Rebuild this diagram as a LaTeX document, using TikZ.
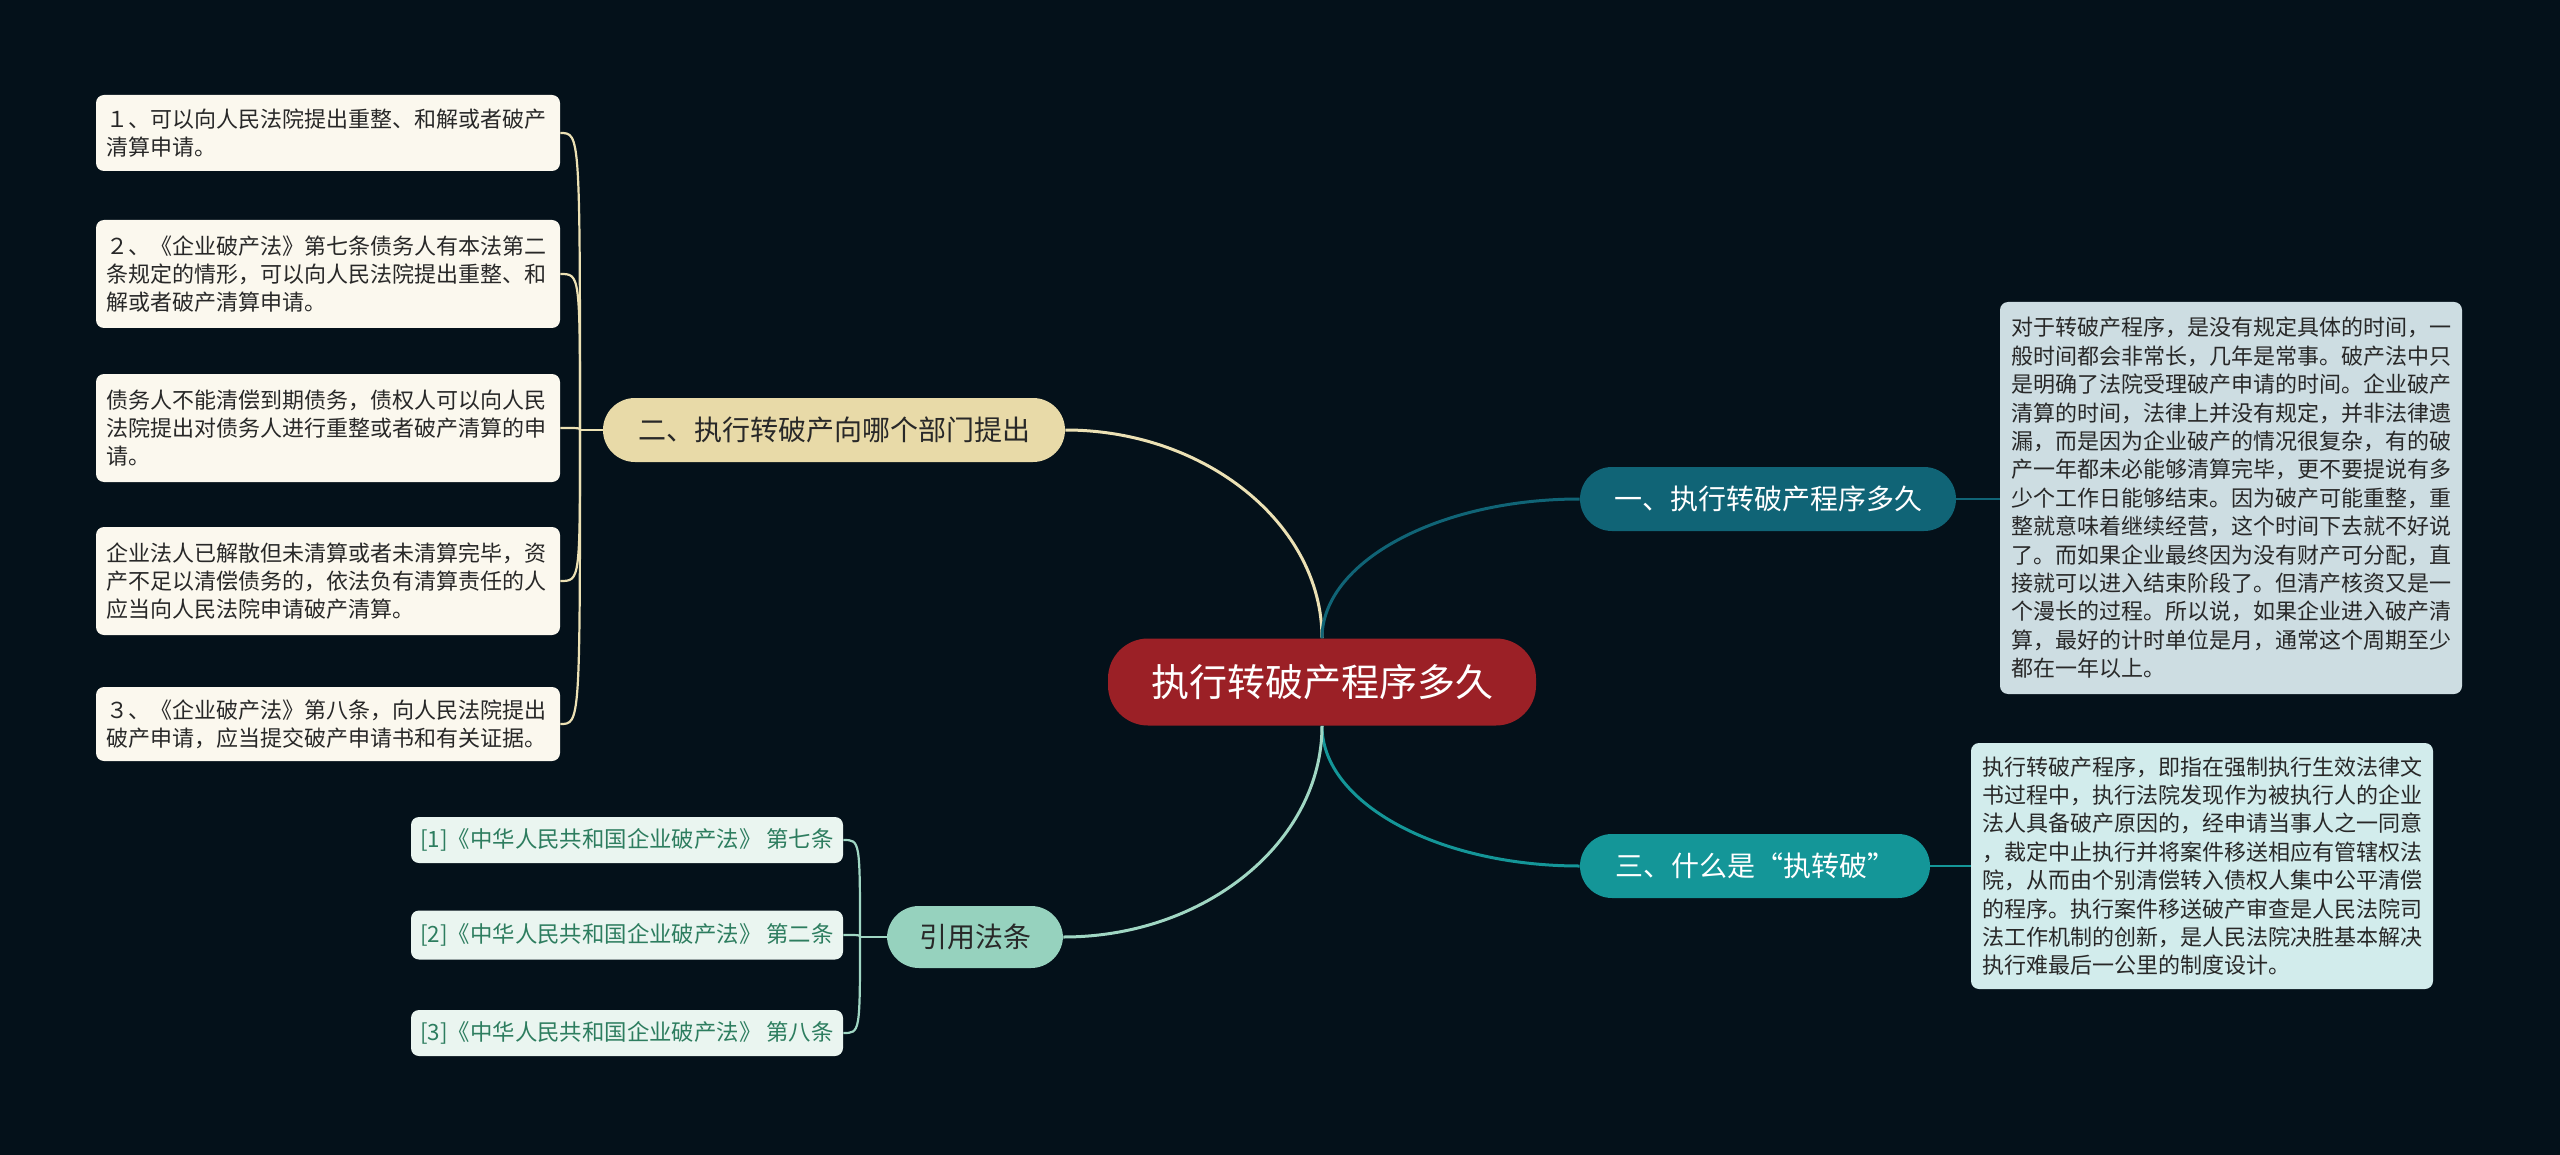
\documentclass[tikz,border=0pt]{standalone}
\usepackage{fontspec}
\setmainfont{Noto Sans CJK SC}
\usepackage{tikz}
\usetikzlibrary{positioning, calc}
\usepackage{xcolor}
\definecolor{bgdark}{RGB}{4,17,26}
\definecolor{rootred}{RGB}{155,32,38}
\definecolor{sand}{RGB}{232,218,168}
\definecolor{sandline}{RGB}{236,225,180}
\definecolor{leafcream}{RGB}{251,248,238}
\definecolor{tealdark}{RGB}{16,100,118}
\definecolor{teallight}{RGB}{20,150,152}
\definecolor{boxgrey}{RGB}{205,221,226}
\definecolor{boxcyan}{RGB}{210,236,236}
\definecolor{mint}{RGB}{150,210,190}
\definecolor{mintline}{RGB}{160,215,195}
\definecolor{citefill}{RGB}{234,245,240}
\definecolor{citetext}{RGB}{45,125,95}
\definecolor{inkdark}{RGB}{40,40,40}

\begin{document}
\begin{tikzpicture}[x=0.5pt, y=-0.5pt, every node/.style={inner sep=0pt},
  pill/.style={rounded corners=16pt, minimum height=32pt, font=\fontsize{14}{17}\selectfont},
  leafbox/.style={fill=leafcream, rounded corners=4pt, text=inkdark, align=left, text width=222pt, minimum width=232pt, font=\fontsize{11}{14}\selectfont},
  citebox/.style={fill=citefill, rounded corners=4pt, text=citetext, minimum width=216pt, minimum height=23pt, font=\fontsize{11.2}{13}\selectfont},
  notebox/.style={rounded corners=4pt, text=inkdark, align=left, text width=220pt, minimum width=231pt, font=\fontsize{11}{14.2}\selectfont},
  branch/.style={line width=1.5pt},
  twig/.style={line width=1.1pt}]
\fill[bgdark] (0,0) rectangle (2560,1155);

\node[fill=rootred, text=white, rounded corners=20pt, minimum width=214pt, minimum height=43.5pt, font=\fontsize{19}{22}\selectfont] (root) at (1322,682) {执行转破产程序多久};

\node[pill, fill=sand, text=inkdark, minimum width=231pt] (dept) at (834,430) {二、执行转破产向哪个部门提出};
\node[pill, fill=tealdark, text=white, minimum width=188pt] (howlong) at (1768,499) {一、执行转破产程序多久};
\node[pill, fill=teallight, text=white, minimum width=175pt] (whatis) at (1755,866) {三、什么是“执转破”};
\node[pill, fill=mint, text=inkdark, minimum width=88pt, minimum height=31pt] (cite) at (975,937) {引用法条};

\node[leafbox, minimum height=38pt] (l1) at (328,133) {１、可以向人民法院提出重整、和解或者破产\\清算申请。};
\node[leafbox, minimum height=54pt] (l2) at (328,274) {２、《企业破产法》第七条债务人有本法第二\\条规定的情形，可以向人民法院提出重整、和\\解或者破产清算申请。};
\node[leafbox, minimum height=54pt] (l3) at (328,428) {债务人不能清偿到期债务，债权人可以向人民\\法院提出对债务人进行重整或者破产清算的申\\请。};
\node[leafbox, minimum height=54pt] (l4) at (328,581) {企业法人已解散但未清算或者未清算完毕，资\\产不足以清偿债务的，依法负有清算责任的人\\应当向人民法院申请破产清算。};
\node[leafbox, minimum height=37pt] (l5) at (328,724) {３、《企业破产法》第八条，向人民法院提出\\破产申请，应当提交破产申请书和有关证据。};

\node[citebox] (c1) at (627,840) {[1]《中华人民共和国企业破产法》 第七条};
\node[citebox, minimum height=24.5pt] (c2) at (627,935) {[2]《中华人民共和国企业破产法》 第二条};
\node[citebox] (c3) at (627,1033) {[3]《中华人民共和国企业破产法》 第八条};

\node[notebox, fill=boxgrey, minimum height=196pt] (notea) at (2231,498) {对于转破产程序，是没有规定具体的时间，一\\般时间都会非常长，几年是常事。破产法中只\\是明确了法院受理破产申请的时间。企业破产\\清算的时间，法律上并没有规定，并非法律遗\\漏，而是因为企业破产的情况很复杂，有的破\\产一年都未必能够清算完毕，更不要提说有多\\少个工作日能够结束。因为破产可能重整，重\\整就意味着继续经营，这个时间下去就不好说\\了。而如果企业最终因为没有财产可分配，直\\接就可以进入结束阶段了。但清产核资又是一\\个漫长的过程。所以说，如果企业进入破产清\\算，最好的计时单位是月，通常这个周期至少\\都在一年以上。};
\node[notebox, fill=boxcyan, minimum height=123pt] (noteb) at (2202,866) {执行转破产程序，即指在强制执行生效法律文\\书过程中，执行法院发现作为被执行人的企业\\法人具备破产原因的，经申请当事人之一同意\\，裁定中止执行并将案件移送相应有管辖权法\\院，从而由个别清偿转入债权人集中公平清偿\\的程序。执行案件移送破产审查是人民法院司\\法工作机制的创新，是人民法院决胜基本解决\\执行难最后一公里的制度设计。};

\draw[branch, sandline] (root.north) .. controls (1322,524) and (1205,430) .. (dept.east);
\draw[branch, tealdark] (root.north) .. controls (1322,562) and (1438,499) .. (howlong.west);
\draw[branch, teallight] (root.south) .. controls (1322,803) and (1438,866) .. (whatis.west);
\draw[branch, mintline] (root.south) .. controls (1322,842) and (1205,937) .. (cite.east);

\draw[twig, tealdark] (howlong.east) -- (howlong.east -| notea.west);
\draw[twig, teallight] (whatis.east) -- (whatis.east -| noteb.west);

\coordinate (dj) at (580,430);
\draw[twig, sandline] (dept.west) -- (dj);
\foreach \l in {l1,l2,l3,l4,l5}
  \draw[twig, sandline] (dj) .. controls (dj |- \l.east) .. (\l.east);

\coordinate (cj) at (860,937);
\draw[twig, mintline] (cite.west) -- (cj);
\foreach \c in {c1,c2,c3}
  \draw[twig, mintline] (cj) .. controls (cj |- \c.east) .. (\c.east);
\end{tikzpicture}
\end{document}
